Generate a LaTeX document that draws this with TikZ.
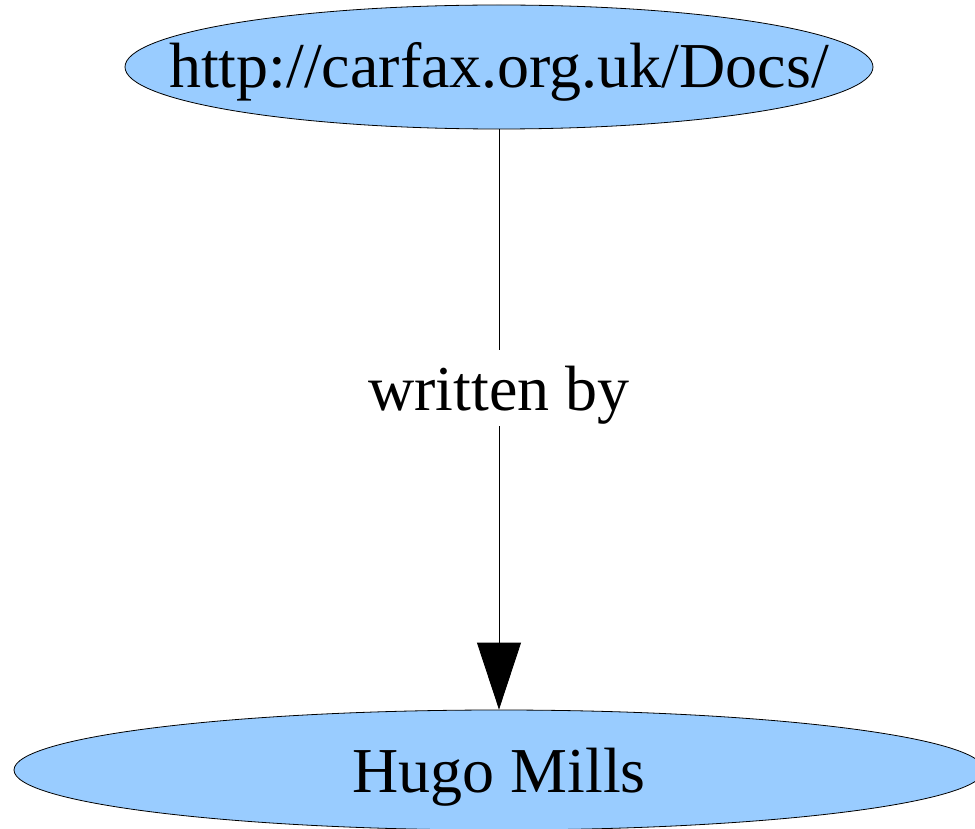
\documentclass[tikz,border=0pt]{standalone}
\usepackage{fontspec}
\setmainfont{Liberation Serif}
\usetikzlibrary{shapes.geometric,arrows.meta}
\definecolor{nodeblue}{HTML}{99CCFF}
\tikzset{
  ellnode/.style={ellipse, draw=black, line width=0.8pt, fill=nodeblue, inner sep=0pt},
  bigtext/.style={font=\fontsize{64}{64}\selectfont},
  conn/.style={draw=black, line width=0.8pt}
}
\begin{document}
\begin{tikzpicture}[x=1pt,y=-1pt]
\useasboundingbox (0,0) rectangle (975,829);
\node[ellnode, minimum width=748pt, minimum height=124pt] (top) at (499,67) {};
\node[bigtext, anchor=base] (toptext) at (499,88) {http://carfax.org.uk/Docs/};
\node[ellnode, minimum width=970pt, minimum height=120pt] (bot) at (499,770) {};
\node[bigtext, anchor=base] (bottext) at (499,792) {Hugo Mills};
\node[bigtext, anchor=base, inner sep=0pt, text height=60pt, text depth=16pt] (lbl) at (499,410) {written by};
\draw[conn] (top.south) -- (lbl.north);
\draw[conn, -{Triangle[length=67pt,width=44pt]}] (lbl.south) -- (bot.north);
\end{tikzpicture}
\end{document}
